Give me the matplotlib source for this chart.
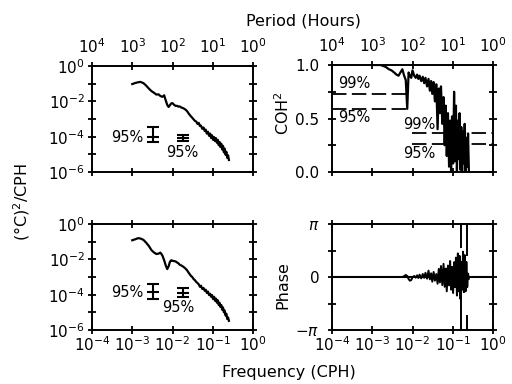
import numpy as np
import matplotlib
matplotlib.use("Agg")
import matplotlib.pyplot as plt

# ---------------- data ----------------
freq = [1.0e-3, 1.2e-3, 1.4e-3, 1.6e-3, 1.9e-3, 2.2e-3, 2.6e-3, 3.0e-3, 3.5e-3, 4.0e-3,
        4.5e-3, 5.0e-3, 5.6e-3, 6.2e-3, 6.8e-3, 7.4e-3, 8.0e-3, 8.6e-3, 9.3e-3, 1.0e-2,
        1.1e-2, 1.2e-2, 1.3e-2, 1.4e-2, 1.5e-2, 1.65e-2, 1.8e-2, 1.95e-2, 2.1e-2, 2.3e-2,
        2.5e-2, 2.7e-2, 2.9e-2, 3.1e-2, 3.35e-2, 3.6e-2, 3.9e-2, 4.2e-2, 4.5e-2, 4.8e-2,
        5.1e-2, 5.5e-2, 5.9e-2, 6.3e-2, 6.7e-2, 7.1e-2, 7.6e-2, 8.1e-2, 8.6e-2, 9.1e-2,
        9.6e-2, 0.102, 0.108, 0.114, 0.120, 0.127, 0.134, 0.141, 0.148, 0.155,
        0.163, 0.171, 0.180, 0.189, 0.198, 0.208, 0.218, 0.229, 0.240, 0.252]

spec_upper = [9.5e-2, 1.1e-1, 1.2e-1, 1.26e-1, 1.07e-1, 7.9e-2, 5.2e-2, 3.8e-2, 3.0e-2, 2.4e-2,
              2.5e-2, 2.0e-2, 1.8e-2, 2.2e-2, 1.12e-2, 6.3e-3, 4.8e-3, 6.0e-3, 7.6e-3, 7.9e-3,
              6.3e-3, 5.5e-3, 5.6e-3, 5.0e-3, 5.2e-3, 4.5e-3, 4.2e-3, 3.8e-3, 3.4e-3, 2.8e-3,
              2.1e-3, 1.66e-3, 1.38e-3, 1.17e-3, 9.5e-4, 7.9e-4, 7.1e-4, 5.2e-4, 6.0e-4, 4.0e-4,
              4.2e-4, 2.8e-4, 3.3e-4, 2.1e-4, 2.5e-4, 1.5e-4, 1.9e-4, 1.12e-4, 1.5e-4, 8.3e-5,
              1.2e-4, 6.6e-5, 9.5e-5, 5.6e-5, 8.3e-5, 4.5e-5, 6.6e-5, 3.3e-5, 5.0e-5, 2.6e-5,
              4.0e-5, 1.9e-5, 3.0e-5, 1.3e-5, 2.1e-5, 9.5e-6, 1.4e-5, 6.3e-6, 8.9e-6, 4.8e-6]

spec_lower = [1.2e-1, 1.38e-1, 1.58e-1, 1.51e-1, 1.26e-1, 8.9e-2, 5.6e-2, 3.3e-2, 2.4e-2, 2.0e-2,
              2.1e-2, 2.4e-2, 1.66e-2, 8.9e-3, 4.5e-3, 2.8e-3, 4.0e-3, 7.1e-3, 8.9e-3, 8.3e-3,
              7.9e-3, 7.6e-3, 6.6e-3, 6.0e-3, 5.0e-3, 4.5e-3, 4.0e-3, 3.5e-3, 3.0e-3, 2.4e-3,
              1.78e-3, 1.41e-3, 1.12e-3, 1.0e-3, 7.6e-4, 6.6e-4, 5.2e-4, 4.5e-4, 3.8e-4, 2.8e-4,
              3.2e-4, 2.1e-4, 2.4e-4, 1.66e-4, 1.9e-4, 1.26e-4, 1.5e-4, 9.5e-5, 1.12e-4, 7.6e-5,
              9.5e-5, 5.6e-5, 7.6e-5, 4.5e-5, 6.0e-5, 3.5e-5, 4.8e-5, 2.6e-5, 3.5e-5, 2.0e-5,
              2.6e-5, 1.41e-5, 1.9e-5, 1.0e-5, 1.26e-5, 6.6e-6, 8.3e-6, 4.2e-6, 5.2e-6, 3.3e-6]

coherence = [1.0, 1.0, 1.0, 1.0, 0.99, 0.98, 0.96, 0.95, 0.93, 0.91,
             0.90, 0.93, 0.96, 0.90, 0.86, 0.59, 0.93, 0.90, 0.88, 0.95,
             0.90, 0.88, 0.91, 0.87, 0.90, 0.85, 0.89, 0.83, 0.88, 0.80,
             0.87, 0.76, 0.85, 0.73, 0.84, 0.66, 0.82, 0.40, 0.78, 0.55,
             0.80, 0.45, 0.70, 0.25, 0.62, 0.15, 0.55, 0.05, 0.48, 0.00,
             0.52, 0.08, 0.75, 0.10, 0.62, 0.00, 0.48, 0.12, 0.55, 0.02,
             0.42, 0.00, 0.38, 0.08, 0.45, 0.00, 0.32, 0.05, 0.36, 0.00]

phase = [0.0, 0.0, 0.0, 0.0, 0.0, 0.0, 0.0, 0.0, 0.0, 0.0,
         0.0, 0.0, 0.0, 0.05, 0.12, 0.06, -0.12, -0.22, -0.18, -0.02,
         0.06, -0.04, 0.10, -0.06, 0.14, -0.08, 0.18, -0.05, 0.25, -0.10,
         0.38, -0.14, 0.22, -0.28, 0.30, -0.22, 0.18, -0.40, 0.48, -0.32,
         0.65, -0.48, 0.78, -0.58, 0.50, -0.85, 0.68, -0.50, 0.95, -0.75,
         0.60, -0.95, 0.88, -0.60, 1.15, -1.10, 1.40, -0.85, 1.25, -1.30,
         0.90, -0.75, 1.50, -0.90, 1.30, -0.85, 0.90, -0.60, 0.20, -0.10]

# phase wrap segments
wrap_freq = [0.163, 0.224]
wrap_top_end = [1.77, 1.30]
wrap_bottom_start = [-0.60, -2.30]

# 95% confidence bars on the spectra
ci_freq = [3.2e-3, 1.78e-2]
ci_upper_mid = [1.0e-4, 8.7e-5]
ci_upper_lo = [5.2e-5, 5.9e-5]
ci_upper_hi = [3.7e-4, 1.26e-4]
ci_lower_mid = [1.48e-4, 1.29e-4]
ci_lower_lo = [5.5e-5, 7.8e-5]
ci_lower_hi = [4.0e-4, 2.3e-4]

# coherence significance levels (99%, 95%)
sig_low_band = [0.73, 0.59]
sig_low_range = [1.0e-4, 7.2e-3]
sig_high_band = [0.36, 0.26]
sig_high_range = [9.5e-3, 1.0]

freq_ticks = [1e-4, 1e-3, 1e-2, 1e-1, 1e0]
freq_labels = [r"$10^{-4}$", r"$10^{-3}$", r"$10^{-2}$", r"$10^{-1}$", r"$10^{0}$"]
period_labels = [r"$10^{4}$", r"$10^{3}$", r"$10^{2}$", r"$10^{1}$", r"$10^{0}$"]
psd_ticks = [1e-6, 1e-5, 1e-4, 1e-3, 1e-2, 1e-1, 1e0]
psd_labels = [r"$10^{-6}$", "", r"$10^{-4}$", "", r"$10^{-2}$", "", r"$10^{0}$"]
coh_ticks = [0.0, 0.25, 0.5, 0.75, 1.0]
coh_labels = ["0.0", "", "0.5", "", "1.0"]
phase_ticks = [-np.pi, -np.pi / 2, 0, np.pi / 2, np.pi]
phase_labels = [r"$-\pi$", "", "0", "", r"$\pi$"]

# ---------------- figure ----------------
plt.rcParams["font.family"] = ["DejaVu Sans"]
plt.rcParams["mathtext.fontset"] = "dejavusans"
W, H = 512, 384
fig = plt.figure(figsize=(W / 100, H / 100), dpi=100)


def ax_at(x0, y0, x1, y1):
    return fig.add_axes([x0 / W, 1 - y1 / H, (x1 - x0) / W, (y1 - y0) / H])


ax1 = ax_at(92, 66, 253, 172)
ax2 = ax_at(332, 65, 493, 172)
ax3 = ax_at(92, 224, 253, 330)
ax4 = ax_at(332, 224, 493, 330)

LW = 1.6
for ax in (ax1, ax2, ax3, ax4):
    ax.set_xscale("log")
    ax.set_xlim(1e-4, 1e0)
    ax.set_xticks(freq_ticks)
    ax.xaxis.set_minor_locator(matplotlib.ticker.NullLocator())
    for s in ax.spines.values():
        s.set_linewidth(1.4)
    ax.tick_params(which="major", direction="inout", length=6, width=1.3,
                   top=True, bottom=True, left=True, right=True, labelsize=11)

for ax in (ax1, ax2):
    ax.set_xticklabels(period_labels)
    ax.tick_params(axis="x", labeltop=True, labelbottom=False, pad=4)
for ax in (ax3, ax4):
    ax.set_xticklabels(freq_labels)
    ax.tick_params(axis="x", labeltop=False, labelbottom=True, pad=1)

# spectra
for ax, spec, mid, lo, hi in ((ax1, spec_upper, ci_upper_mid, ci_upper_lo, ci_upper_hi),
                              (ax3, spec_lower, ci_lower_mid, ci_lower_lo, ci_lower_hi)):
    ax.set_yscale("log")
    ax.set_ylim(1e-6, 1e0)
    ax.set_yticks(psd_ticks)
    ax.set_yticklabels(psd_labels)
    ax.yaxis.set_minor_locator(matplotlib.ticker.NullLocator())
    ax.tick_params(axis="y", pad=2)
    ax.plot(freq, spec, color="black", lw=LW)
    yerr = [np.array(mid) - np.array(lo), np.array(hi) - np.array(mid)]
    ax.errorbar(ci_freq, mid, yerr=yerr, fmt="_", color="black", ms=8.5,
                mew=1.5, elinewidth=1.5, capsize=4.3, capthick=1.5)

tk = dict(ha="center", va="center", fontsize=10.5)
ax1.text(0.217, 0.33, "95%", transform=ax1.transAxes, **tk)
ax1.text(0.56, 0.18, "95%", transform=ax1.transAxes, **tk)
ax3.text(0.217, 0.35, "95%", transform=ax3.transAxes, **tk)
ax3.text(0.534, 0.21, "95%", transform=ax3.transAxes, **tk)

# coherence
ax2.set_ylim(0, 1)
ax2.set_yticks(coh_ticks)
ax2.set_yticklabels(coh_labels)
ax2.tick_params(axis="y", pad=6)
for lvl in sig_low_band:
    ax2.plot(sig_low_range, [lvl, lvl], color="black", lw=1.3, ls=(0, (8, 3)))
for lvl in sig_high_band:
    ax2.plot(sig_high_range, [lvl, lvl], color="black", lw=1.3, ls=(0, (8, 3)))
ax2.plot(freq, coherence, color="black", lw=LW)
ax2.text(0.137, 0.83, "99%", transform=ax2.transAxes, **tk)
ax2.text(0.137, 0.505, "95%", transform=ax2.transAxes, **tk)
ax2.text(0.54, 0.44, "99%", transform=ax2.transAxes, **tk)
ax2.text(0.54, 0.17, "95%", transform=ax2.transAxes, **tk)

# phase
ax4.set_ylim(-np.pi, np.pi)
ax4.set_yticks(phase_ticks)
ax4.set_yticklabels(phase_labels)
ax4.tick_params(axis="y", pad=6)
ax4.axhline(0, color="black", lw=1.5)
ax4.plot(freq, phase, color="black", lw=1.4)
for f, te, bs in zip(wrap_freq, wrap_top_end, wrap_bottom_start):
    ax4.plot([f, f], [np.pi, te], color="black", lw=1.4)
    ax4.plot([f, f], [bs, -np.pi], color="black", lw=1.4)

# axis titles
fig.text(303 / W, 1 - 21 / H, "Period (Hours)", ha="center", va="center", fontsize=11.5)
fig.text(289 / W, 1 - 373 / H, "Frequency (CPH)", ha="center", va="center", fontsize=11.5)
fig.text(22 / W, 1 - 202 / H, r"($\degree$C)$^2$/CPH", rotation=90, ha="center", va="center", fontsize=11.5)
fig.text(283 / W, 1 - 113 / H, r"COH$^2$", rotation=90, ha="center", va="center", fontsize=11.5)
fig.text(283 / W, 1 - 285 / H, "Phase", rotation=90, ha="center", va="center", fontsize=11.5)

fig.savefig("out.png", dpi=100)
